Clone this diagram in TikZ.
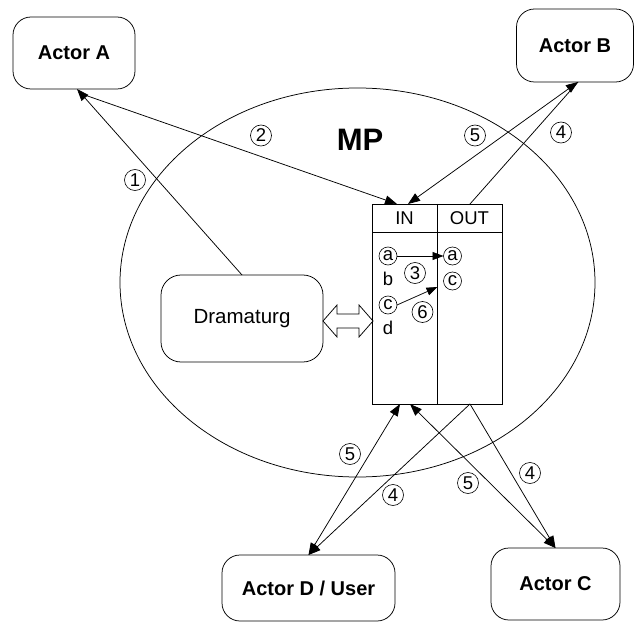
\documentclass[tikz,border=0pt]{standalone}
\usepackage{fontspec}
\setmainfont{Liberation Sans}
\usetikzlibrary{arrows.meta,calc}

\tikzset{
  actor/.style={draw, rounded corners=18pt, line width=0.75pt, inner sep=0pt, outer sep=0pt,
                font=\fontsize{20}{22}\selectfont\bfseries},
  plainbox/.style={draw, rounded corners=20pt, line width=0.75pt, inner sep=0pt, outer sep=0pt,
                font=\fontsize{20.5}{22}\selectfont},
  num/.style={draw, circle, line width=0.6pt, inner sep=0pt, minimum size=21pt,
              font=\fontsize{18.5}{18.5}\selectfont},
  let/.style={draw, circle, line width=0.6pt, inner sep=0pt, minimum size=18pt, outer sep=0pt,
              font=\fontsize{18.5}{18.5}\selectfont},
  txt/.style={inner sep=0pt, font=\fontsize{18.5}{18.5}\selectfont},
  conn/.style={line width=0.75pt},
  tip/.style={-{Triangle[length=12pt,width=9pt]}},
  tips/.style={{Triangle[length=12pt,width=9pt]}-{Triangle[length=12pt,width=9pt]}},
  smalltip/.style={-{Triangle[length=11pt,width=8pt]}}
}

\begin{document}
\begin{tikzpicture}[x=1pt, y=-1pt]
\useasboundingbox (0,0) rectangle (635,623);

% MP area
\draw[line width=0.75pt] (357.5,282.5) ellipse [x radius=237.5, y radius=194.5];
\node[font=\fontsize{31}{31}\selectfont\bfseries, inner sep=0pt] (mp) at (360,140) {MP};

% actors
\node[actor, minimum width=122pt, minimum height=72pt] (actA) at (74,53) {Actor A};
\node[actor, minimum width=117pt, minimum height=73pt] (actB) at (575,45.5) {Actor B};
\node[actor, minimum width=173pt, minimum height=66pt] (actD) at (308.5,588) {Actor D / User};
\node[actor, minimum width=129pt, minimum height=72pt] (actC) at (555.5,584) {Actor C};

% Dramaturg
\node[plainbox, minimum width=162pt, minimum height=87pt] (dram) at (242,318.5) {Dramaturg};

% IN / OUT table
\node[draw, line width=0.75pt, minimum width=130pt, minimum height=200pt, inner sep=0pt, outer sep=0pt] (tbl) at (437,304) {};
\draw[line width=0.75pt] (tbl.north) -- (tbl.south);
\draw[line width=0.75pt] ([yshift=-28pt]tbl.north west) -- ([yshift=-28pt]tbl.north east);
\node[txt] (in) at (404.5,218) {IN};
\node[txt] (out) at (469.5,218) {OUT};

% table entries
\node[let] (la) at (388,256) {a};
\node[txt] (lb) at (388,279) {b};
\node[let] (lc) at (388,305) {c};
\node[txt] (ld) at (388,327.5) {d};
\node[let] (ra) at (452.5,256) {a};
\node[let] (rc) at (452.5,281) {c};
\node[num] (n3) at (415,273) {3};
\node[num] (n6) at (422.5,312) {6};
\draw[conn, smalltip] (la.east) -- (ra.west);
\draw[conn, smalltip] (lc.east) -- ($(rc.west)+(-6,6)$);

% attachment points on the table
\coordinate (inT1) at ([xshift=25pt]tbl.north west);
\coordinate (inT2) at ([xshift=36pt]tbl.north west);
\coordinate (outT) at ([xshift=-32pt]tbl.north east);
\coordinate (inB1) at ([xshift=28pt]tbl.south west);
\coordinate (inB2) at ([xshift=38pt]tbl.south west);
\coordinate (outB) at ([xshift=-32pt]tbl.south east);

% connectors
\draw[conn, tip] (dram.north) -- ([xshift=3pt]actA.south);
\draw[conn, tip] ([xshift=5pt,yshift=-4pt]actA.south) -- (inT1);
\draw[conn, tips] (inT2) -- ([xshift=3pt]actB.south);
\draw[conn] (outT) -- ([xshift=3pt]actB.south);
\draw[conn, tips] (inB1) -- (actD.north);
\draw[conn, tip] (outB) -- (actD.north);
\draw[conn, tips] (inB2) -- (actC.north);
\draw[conn, tip] (outB) -- (actC.north);

% double arrow between Dramaturg and the table
\draw[line width=0.75pt] ([yshift=-2.5pt]dram.east) -- ++(14,-16) -- ++(0,9) -- ++(22,0) -- ++(0,-9)
  -- ++(14,16) -- ++(-14,16) -- ++(0,-9) -- ++(-22,0) -- ++(0,9) -- cycle;

% step numbers
\node[num] (s1) at (135,180) {1};
\node[num] (s2) at (261,135.5) {2};
\node[num] (s5a) at (475,135.5) {5};
\node[num] (s4a) at (561,132.5) {4};
\node[num] (s5b) at (350,454) {5};
\node[num] (s4b) at (393,495) {4};
\node[num] (s5c) at (468,483) {5};
\node[num] (s4c) at (530,473) {4};
\end{tikzpicture}
\end{document}
